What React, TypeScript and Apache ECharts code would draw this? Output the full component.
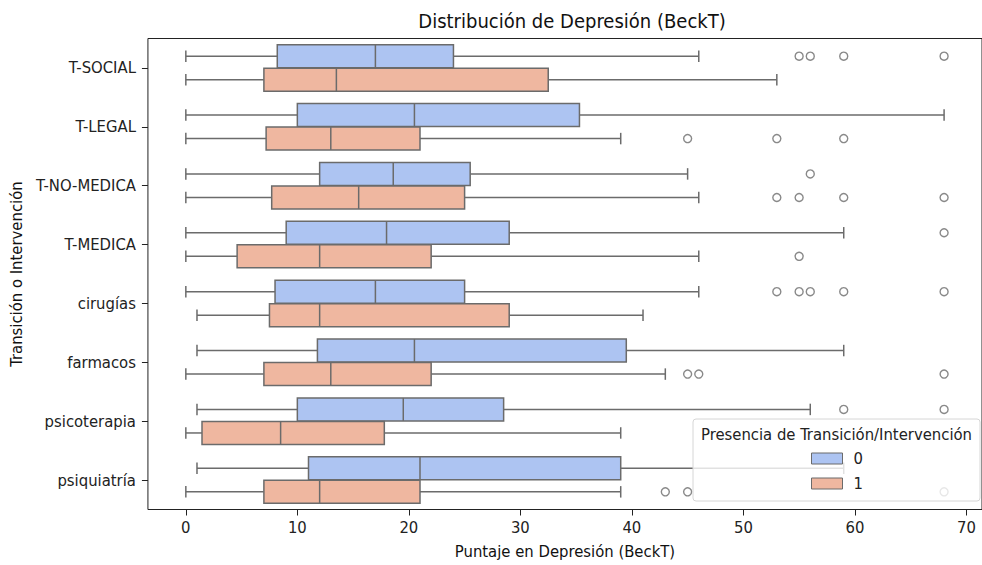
import React, { useEffect, useRef } from "react";
import * as echarts from "echarts";

const categories = ["T-SOCIAL", "T-LEGAL", "T-NO-MEDICA", "T-MEDICA", "cirugías", "farmacos", "psicoterapia", "psiquiatría"];

// [min, q1, median, q3, max] per category, hue 0
const stats0 = [
  [0, 8.2, 17.0, 24.0, 46],
  [0, 10.0, 20.5, 35.3, 68],
  [0, 12.0, 18.6, 25.5, 45],
  [0, 9.0, 18.0, 29.0, 59],
  [0, 8.0, 17.0, 25.0, 46],
  [1, 11.8, 20.5, 39.5, 59],
  [1, 10.0, 19.5, 28.5, 56],
  [1, 11.0, 21.0, 39.0, 59],
];

// hue 1
const stats1 = [
  [0, 7.0, 13.5, 32.5, 53],
  [0, 7.2, 13.0, 21.0, 39],
  [0, 7.7, 15.5, 25.0, 46],
  [0, 4.6, 12.0, 22.0, 46],
  [1, 7.5, 12.0, 29.0, 41],
  [0, 7.0, 13.0, 22.0, 43],
  [0, 1.45, 8.5, 17.8, 39],
  [0, 7.0, 12.0, 21.0, 39],
];

// outliers: [value, category]
const outliers0 = [
  [55, "T-SOCIAL"], [56, "T-SOCIAL"], [59, "T-SOCIAL"], [68, "T-SOCIAL"],
  [56, "T-NO-MEDICA"],
  [68, "T-MEDICA"],
  [53, "cirugías"], [55, "cirugías"], [56, "cirugías"], [59, "cirugías"], [68, "cirugías"],
  [59, "psicoterapia"], [68, "psicoterapia"],
];

const outliers1 = [
  [45, "T-LEGAL"], [53, "T-LEGAL"], [59, "T-LEGAL"],
  [53, "T-NO-MEDICA"], [55, "T-NO-MEDICA"], [59, "T-NO-MEDICA"], [68, "T-NO-MEDICA"],
  [55, "T-MEDICA"],
  [45, "farmacos"], [46, "farmacos"], [68, "farmacos"],
  [43, "psiquiatría"], [45, "psiquiatría"], [68, "psiquiatría"],
];

const hueNames = ["0", "1"];
const xTicks = [0, 10, 20, 30, 40, 50, 60, 70];

const BLUE = "#adc4f2";
const ORANGE = "#efb7a0";
const EDGE = "#6b6b6b";
const FONT = "'DejaVu Sans Condensed', 'DejaVu Sans', sans-serif";
const FS = 16.5;

export default function App() {
  const ref = useRef<HTMLDivElement>(null);

  useEffect(() => {
    if (!ref.current) return;
    const chart = echarts.init(ref.current, null, { renderer: "svg" });

    const makeRender = (sign: number) => (params: any, api: any) => {
      const cat = api.value(0);
      const band = api.size([0, 1])[1];
      const center = api.coord([api.value(3), cat]);
      const cy = center[1] + sign * 0.2 * band;
      const h = 0.39 * band;
      const xMin = api.coord([api.value(1), cat])[0];
      const xQ1 = api.coord([api.value(2), cat])[0];
      const xMed = center[0];
      const xQ3 = api.coord([api.value(4), cat])[0];
      const xMax = api.coord([api.value(5), cat])[0];
      const ls = { stroke: EDGE, lineWidth: 1.5 };
      return {
        type: "group",
        children: [
          { type: "line", shape: { x1: xMin, y1: cy, x2: xQ1, y2: cy }, style: ls },
          { type: "line", shape: { x1: xQ3, y1: cy, x2: xMax, y2: cy }, style: ls },
          { type: "line", shape: { x1: xMin, y1: cy - h / 4, x2: xMin, y2: cy + h / 4 }, style: ls },
          { type: "line", shape: { x1: xMax, y1: cy - h / 4, x2: xMax, y2: cy + h / 4 }, style: ls },
          {
            type: "rect",
            shape: { x: xQ1, y: cy - h / 2, width: xQ3 - xQ1, height: h },
            style: { fill: api.visual("color"), stroke: EDGE, lineWidth: 1.5 },
          },
          { type: "line", shape: { x1: xMed, y1: cy - h / 2, x2: xMed, y2: cy + h / 2 }, style: ls },
        ],
      };
    };

    const boxData = (stats: number[][]) => stats.map((s, i) => [i, ...s]);

    chart.setOption({
      animation: false,
      title: {
        text: "Distribución de Depresión (BeckT)",
        left: 567,
        top: 6,
        textAlign: "center",
        textStyle: { fontFamily: FONT, fontSize: 20, fontWeight: "normal", color: "#111" },
      },
      grid: {
        left: 146.7,
        top: 38.5,
        width: 841.3,
        height: 471,
        show: true,
        borderColor: "#222",
        borderWidth: 1,
        backgroundColor: "transparent",
      },
      xAxis: {
        type: "value",
        min: -3.4,
        max: 71.4,
        name: "Puntaje en Depresión (BeckT)",
        nameLocation: "middle",
        nameGap: 33,
        nameTextStyle: { fontFamily: FONT, fontSize: FS, color: "#111" },
        axisLine: { show: false, onZero: false },
        splitLine: { show: false },
        axisTick: { show: true, length: 6, lineStyle: { color: "#222" }, customValues: xTicks },
        axisLabel: {
          fontFamily: FONT,
          fontSize: FS,
          color: "#222",
          margin: 9,
          customValues: xTicks,
        },
      },
      yAxis: {
        type: "category",
        data: categories,
        inverse: true,
        name: "Transición o Intervención",
        nameLocation: "middle",
        nameGap: 119,
        nameTextStyle: { fontFamily: FONT, fontSize: FS, color: "#111" },
        axisLine: { show: false, onZero: false },
        axisTick: { show: true, alignWithLabel: true, length: 6, lineStyle: { color: "#222" } },
        axisLabel: { fontFamily: FONT, fontSize: FS, color: "#222", margin: 12 },
        splitLine: { show: false },
      },
      legend: {
        orient: "vertical",
        left: 811,
        top: 450,
        padding: 0,
        itemWidth: 31,
        itemHeight: 11,
        itemGap: 8,
        z: 60,
        textStyle: { fontFamily: FONT, fontSize: FS, color: "#222", padding: [0, 0, 0, 6] },
        data: [
          { name: hueNames[0], icon: "rect", itemStyle: { color: BLUE, borderColor: EDGE, borderWidth: 1 } },
          { name: hueNames[1], icon: "rect", itemStyle: { color: ORANGE, borderColor: EDGE, borderWidth: 1 } },
        ],
      },
      graphic: [
        {
          type: "rect",
          z: 50,
          shape: { x: 693, y: 419, width: 287, height: 82, r: 3 },
          style: { fill: "rgba(255,255,255,0.8)", stroke: "#d6d6d6", lineWidth: 1 },
        },
        {
          type: "text",
          z: 55,
          x: 836.5,
          y: 434,
          style: {
            text: "Presencia de Transición/Intervención",
            fontFamily: FONT,
            fontSize: FS,
            fill: "#222",
            align: "center",
            verticalAlign: "middle",
          },
        },
      ],
      series: [
        {
          name: hueNames[0],
          type: "custom",
          renderItem: makeRender(-1),
          itemStyle: { color: BLUE },
          encode: { x: [1, 2, 3, 4, 5], y: 0 },
          data: boxData(stats0),
          z: 2,
        },
        {
          name: hueNames[1],
          type: "custom",
          renderItem: makeRender(1),
          itemStyle: { color: ORANGE },
          encode: { x: [1, 2, 3, 4, 5], y: 0 },
          data: boxData(stats1),
          z: 2,
        },
        {
          name: hueNames[0],
          type: "scatter",
          symbol: "circle",
          symbolSize: 8,
          symbolOffset: [0, -11.8],
          itemStyle: { color: "rgba(255,255,255,0)", borderColor: EDGE, borderWidth: 1.4 },
          data: outliers0,
          z: 3,
        },
        {
          name: hueNames[1],
          type: "scatter",
          symbol: "circle",
          symbolSize: 8,
          symbolOffset: [0, 11.8],
          itemStyle: { color: "rgba(255,255,255,0)", borderColor: EDGE, borderWidth: 1.4 },
          data: outliers1,
          z: 3,
        },
      ],
    });

    return () => chart.dispose();
  }, []);

  return (
    <div
      ref={ref}
      style={{ position: "fixed", left: 0, top: 0, width: 982, height: 565, background: "#fff" }}
    />
  );
}
